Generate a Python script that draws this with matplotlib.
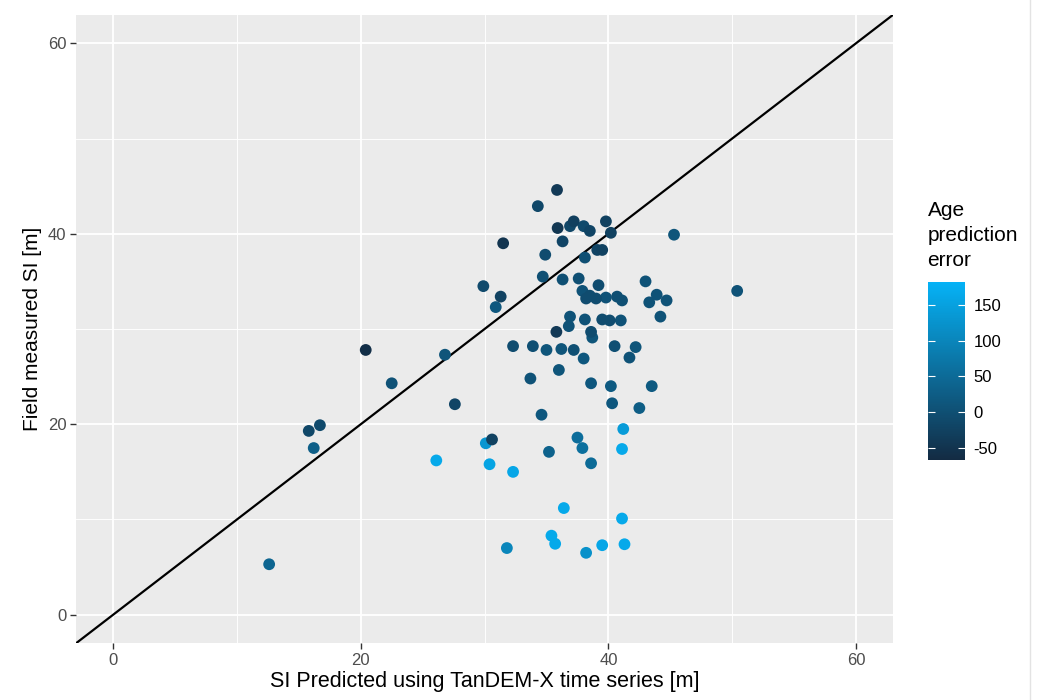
import numpy as np
import matplotlib
matplotlib.use("Agg")
import matplotlib.pyplot as plt
from matplotlib.colors import LinearSegmentedColormap, Normalize
from matplotlib.lines import Line2D

# predicted SI, field SI, age prediction error
si_pred = [12.6, 15.8, 16.2, 16.7, 20.4, 22.5, 26.8, 27.6, 26.1, 29.9,
           31.3, 30.9, 31.5, 32.3, 33.7, 33.9, 34.3, 34.7, 34.9, 35.0,
           35.85, 35.9, 36.0, 36.3, 36.3, 36.2, 36.9, 37.2, 36.9, 36.8,
           35.8, 37.6, 37.9, 38.0, 38.5, 38.1, 38.2, 38.5, 38.1, 38.6,
           38.7, 37.2, 38.0, 38.6, 39.0, 39.2, 39.1, 39.5, 39.8, 39.8,
           39.5, 40.1, 40.2, 40.2, 40.3, 40.5, 40.7, 41.1, 41.0, 41.7,
           42.2, 42.5, 43.0, 43.3, 43.5, 43.9, 44.2, 44.7, 45.3, 50.4,
           34.6, 41.2, 30.1, 30.6, 37.5, 37.9, 41.1, 35.2, 30.4, 38.6,
           32.3, 36.4, 41.1, 35.4, 35.7, 31.8, 38.2, 39.5, 41.3]
si_field = [5.3, 19.3, 17.5, 19.9, 27.8, 24.3, 27.3, 22.1, 16.2, 34.5,
            33.4, 32.3, 39.0, 28.2, 24.8, 28.2, 42.9, 35.5, 37.8, 27.8,
            44.6, 40.6, 25.7, 39.2, 35.2, 27.9, 40.8, 41.3, 31.3, 30.3,
            29.7, 35.3, 34.0, 40.8, 40.3, 37.5, 33.2, 33.5, 31.0, 29.7,
            29.1, 27.8, 26.9, 24.3, 33.2, 34.6, 38.3, 38.3, 41.3, 33.3,
            31.0, 30.9, 40.1, 24.0, 22.2, 28.2, 33.4, 33.0, 30.9, 27.0,
            28.1, 21.7, 35.0, 32.8, 24.0, 33.6, 31.3, 33.0, 39.9, 34.0,
            21.0, 19.5, 18.0, 18.4, 18.6, 17.5, 17.4, 17.1, 15.8, 15.9,
            15.0, 11.2, 10.1, 8.3, 7.45, 7.0, 6.5, 7.3, 7.4]
age_err = [40, -15, 30, -10, -60, 5, 10, -20, 165, -10,
           -25, 15, -50, -5, 5, 0, -15, 0, -5, 10,
           -40, -45, 10, -20, 0, 10, -15, -30, 5, 5,
           -40, 0, 5, -10, -20, 0, -5, -5, 5, -5,
           10, 0, 15, 15, -5, -5, -20, -25, -25, 5,
           -5, -5, -25, 20, 15, 0, 0, 0, 5, 5,
           10, 25, 5, 5, 20, 5, 5, 5, 10, 5,
           15, 140, 130, -25, 55, 60, 165, 35, 155, 50,
           160, 165, 165, 165, 165, 100, 120, 160, 165]

x_ticks = [0, 20, 40, 60]
y_ticks = [0, 20, 40, 60]
cbar_ticks = [-50, 0, 50, 100, 150]

cmap = LinearSegmentedColormap.from_list("ggblue", ["#132B43", "#05B2F6"])
norm = Normalize(vmin=-67, vmax=182)

plt.rcParams["font.family"] = ["Liberation Sans", "DejaVu Sans"]
plt.rcParams["axes.unicode_minus"] = False

fig = plt.figure(figsize=(10.41, 7), dpi=100)
ax = fig.add_axes([0.073, 0.081, 0.785, 0.898])
ax.set_facecolor("#EBEBEB")

ax.set_xlim(-3, 63)
ax.set_ylim(-3, 63)
ax.set_xticks(x_ticks)
ax.set_yticks(y_ticks)
ax.set_xticks([10, 30, 50], minor=True)
ax.set_yticks([10, 30, 50], minor=True)
ax.grid(which="major", color="white", linewidth=1.3)
ax.grid(which="minor", color="white", linewidth=0.65)
ax.set_axisbelow(True)
for s in ax.spines.values():
    s.set_visible(False)
ax.tick_params(which="major", length=4, width=1.0, color="#333333",
               labelcolor="#4D4D4D", labelsize=12, pad=3)
ax.tick_params(which="minor", length=0)

# 1:1 line
ax.axline((0, 0), slope=1, color="black", linewidth=1.6, zorder=2)

order = np.argsort(-np.array(age_err))
sx = np.array(si_pred)[order]
sy = np.array(si_field)[order]
sc = np.array(age_err)[order]
pts = ax.scatter(sx, sy, c=sc, cmap=cmap, norm=norm, s=72,
                 linewidths=0, zorder=3)

ax.set_xlabel("SI Predicted using TanDEM-X time series [m]", fontsize=15.5,
              labelpad=2)
ax.set_ylabel("Field measured SI [m]", fontsize=15, labelpad=4)

cax = fig.add_axes([0.891, 0.343, 0.036, 0.254])
cb = fig.colorbar(pts, cax=cax, ticks=cbar_ticks)
cb.outline.set_visible(False)
cax.tick_params(direction="in", left=True, right=True, color="white",
                length=5, width=0.8, labelsize=12, labelcolor="black",
                pad=6)
fig.text(0.891, 0.614, "Age\nprediction\nerror", fontsize=15,
         ha="left", va="bottom", linespacing=1.4)

fig.add_artist(Line2D([0.989, 0.989], [0, 1], transform=fig.transFigure,
                      color="#E3E3E3", linewidth=1))

fig.savefig("out.png", dpi=100)
